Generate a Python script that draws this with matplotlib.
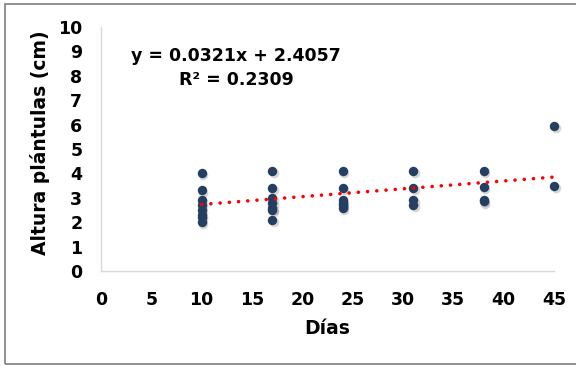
import matplotlib
matplotlib.use("Agg")
import matplotlib.pyplot as plt
from matplotlib.patches import Rectangle
from matplotlib.transforms import offset_copy
import numpy as np

# Plant height measurements (cm) by day
days_10 = [4.0, 3.3, 2.9, 2.7, 2.5, 2.3, 2.2, 2.0]
days_17 = [4.1, 3.4, 3.0, 2.8, 2.6, 2.5, 2.1]
days_24 = [4.1, 3.4, 2.9, 2.8, 2.7, 2.6]
days_31 = [4.1, 3.4, 2.9, 2.7]
days_38 = [4.1, 3.45, 2.9, 2.85]
days_45 = [5.95, 3.5]
day_values = [10, 17, 24, 31, 38, 45]

# Linear trend from the fitted equation
slope = 0.0321
intercept = 2.4057
r_squared = 0.2309

x_ticks = [0, 5, 10, 15, 20, 25, 30, 35, 40, 45]
y_ticks = [0, 1, 2, 3, 4, 5, 6, 7, 8, 9, 10]

plt.rcParams['font.family'] = ['DejaVu Sans']

fig = plt.figure(figsize=(5.76, 3.66), dpi=100)
ax = fig.add_axes([101 / 576, 1 - 271 / 366, (554 - 101) / 576, (271 - 27) / 366])

groups = [days_10, days_17, days_24, days_31, days_38, days_45]
xs = []
ys = []
for d, vals in zip(day_values, groups):
    xs.extend([d] * len(vals))
    ys.extend(vals)
xs = np.array(xs, dtype=float)
ys = np.array(ys, dtype=float)

# soft drop shadow under the markers
shadow_tr = offset_copy(ax.transData, fig=fig, x=1.2, y=-1.5, units='points')
ax.scatter(xs, ys, s=48, color='#000000', alpha=0.16, linewidths=0,
           transform=shadow_tr, zorder=2, clip_on=False)
ax.scatter(xs, ys, s=46, color='#243F60', linewidths=0, zorder=3, clip_on=False)

# dotted red trend line
tx = np.array([min(day_values), max(day_values)], dtype=float)
ty = slope * tx + intercept
ax.plot(tx, ty, color='#FF0000', linewidth=2.6, linestyle=(0, (0.01, 2.55)),
        dash_capstyle='round', zorder=4)

ax.set_xlim(0, 45)
ax.set_ylim(0, 10)
ax.set_xticks(x_ticks)
ax.set_yticks(y_ticks)
ax.tick_params(axis='both', length=0, labelsize=12.5)
ax.tick_params(axis='x', pad=14.5)
ax.tick_params(axis='y', pad=13.5)
for lab in ax.get_xticklabels() + ax.get_yticklabels():
    lab.set_fontweight('bold')

for side in ['top', 'right']:
    ax.spines[side].set_visible(False)
for side in ['left', 'bottom']:
    ax.spines[side].set_color('#D9D9D9')
    ax.spines[side].set_linewidth(1.0)

ax.set_xlabel('Días', fontsize=13.5, fontweight='bold', labelpad=7)
ax.set_ylabel('Altura plántulas (cm)', fontsize=13.5, fontweight='bold')
ax.yaxis.set_label_coords(-0.112, 0.525)

eq_text = f'y = {slope}x + {intercept}\nR² = {r_squared}'
fig.text(236 / 576, 1 - 68 / 366, eq_text, ha='center', va='center',
         fontsize=12.5, fontweight='bold', linespacing=1.45)

# outer chart border
fig.patches.append(Rectangle((5 / 576, 2 / 366), 1.2, 1 - 6 / 366,
                             transform=fig.transFigure, fill=False,
                             edgecolor='#7F7F7F', linewidth=1.2))

fig.savefig('out.png', dpi=100)
